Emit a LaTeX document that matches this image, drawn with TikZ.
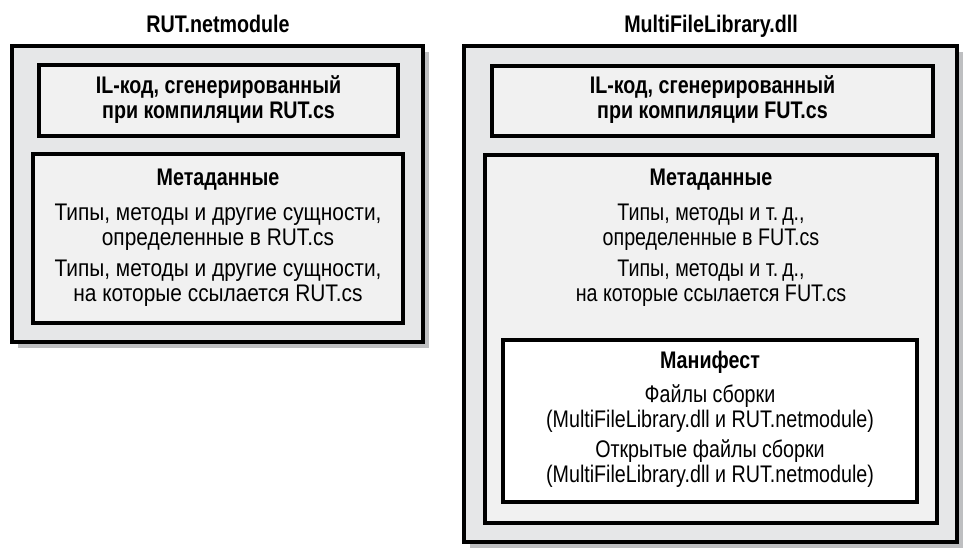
\documentclass[tikz,border=0pt]{standalone}
\usepackage{fontspec}
\setmainfont[FakeStretch=0.87]{Liberation Sans}
\newfontfamily\narrowfont[FakeStretch=0.82]{Liberation Sans}
\usetikzlibrary{shadows}
\definecolor{outergray}{HTML}{E6E7E8}
\definecolor{innergray}{HTML}{F1F1F1}
\definecolor{shadowgray}{HTML}{BEBFC1}
\begin{document}
\begin{tikzpicture}[x=1pt, y=1pt,
    outerbox/.style={draw=black, line width=3.2pt, fill=outergray, inner sep=0pt,
        drop shadow={fill=shadowgray, opacity=1, shadow xshift=6pt, shadow yshift=-6pt}},
    innerbox/.style={draw=black, line width=3.2pt, fill=innergray, inner sep=0pt},
    manbox/.style={draw=black, line width=3.2pt, fill=white, inner sep=0pt},
    boldtext/.style={font=\fontsize{24}{25.5}\narrowfont\bfseries, align=center, anchor=base, inner sep=0pt},
    plaintext/.style={font=\fontsize{24}{25}\selectfont, align=center, anchor=base, inner sep=0pt},
    narrowtext/.style={plaintext, font=\fontsize{24}{25}\narrowfont}]

            \useasboundingbox (0,0) rectangle (976,559);

            % RUT.netmodule
            \node[boldtext] (T1) at (218,526) {RUT.netmodule};
            \node[outerbox, minimum width=411, minimum height=296] (B1) at (217.5,365) {};
            \node[innerbox, minimum width=359, minimum height=71] (IL1) at (218.5,458.5) {};
            \node[innerbox, minimum width=370, minimum height=169] (M1) at (218,320.5) {};
            \node[boldtext] (IL1t) at (IL1.center |- 0,440) {IL-код, сгенерированный\\при компиляции RUT.cs};
            \node[boldtext] (M1h) at (M1.center |- 0,373) {Метаданные};
            \node[plaintext] (M1a) at (M1.center |- 0,313) {Типы, методы и другие сущности,\\определенные в RUT.cs};
            \node[plaintext] (M1b) at (M1.center |- 0,257.5) {Типы, методы и другие сущности,\\на которые ссылается RUT.cs};

            % MultiFileLibrary.dll
            \node[boldtext] (T2) at (711,526) {MultiFileLibrary.dll};
            \node[outerbox, minimum width=493, minimum height=496] (B2) at (710.5,265) {};
            \node[innerbox, minimum width=441, minimum height=70] (IL2) at (712.5,458) {};
            \node[innerbox, minimum width=452, minimum height=368] (M2) at (711,220) {};
            \node[manbox, minimum width=414, minimum height=162] (MF) at (710,138) {};
            \node[boldtext] (IL2t) at (IL2.center |- 0,440) {IL-код, сгенерированный\\при компиляции FUT.cs};
            \node[boldtext] (M2h) at (M2.center |- 0,373) {Метаданные};
            \node[narrowtext] (M2a) at (M2.center |- 0,313) {Типы, методы и т.\,д.,\\определенные в FUT.cs};
            \node[narrowtext] (M2b) at (M2.center |- 0,257.5) {Типы, методы и т.\,д.,\\на которые ссылается FUT.cs};
            \node[boldtext] (MFh) at (MF.center |- 0,190) {Манифест};
            \node[narrowtext] (MFa) at (MF.center |- 0,131) {Файлы сборки\\(MultiFileLibrary.dll и RUT.netmodule)};
            \node[narrowtext] (MFb) at (MF.center |- 0,76) {Открытые файлы сборки\\(MultiFileLibrary.dll и RUT.netmodule)};
        \end{tikzpicture}
\end{document}
